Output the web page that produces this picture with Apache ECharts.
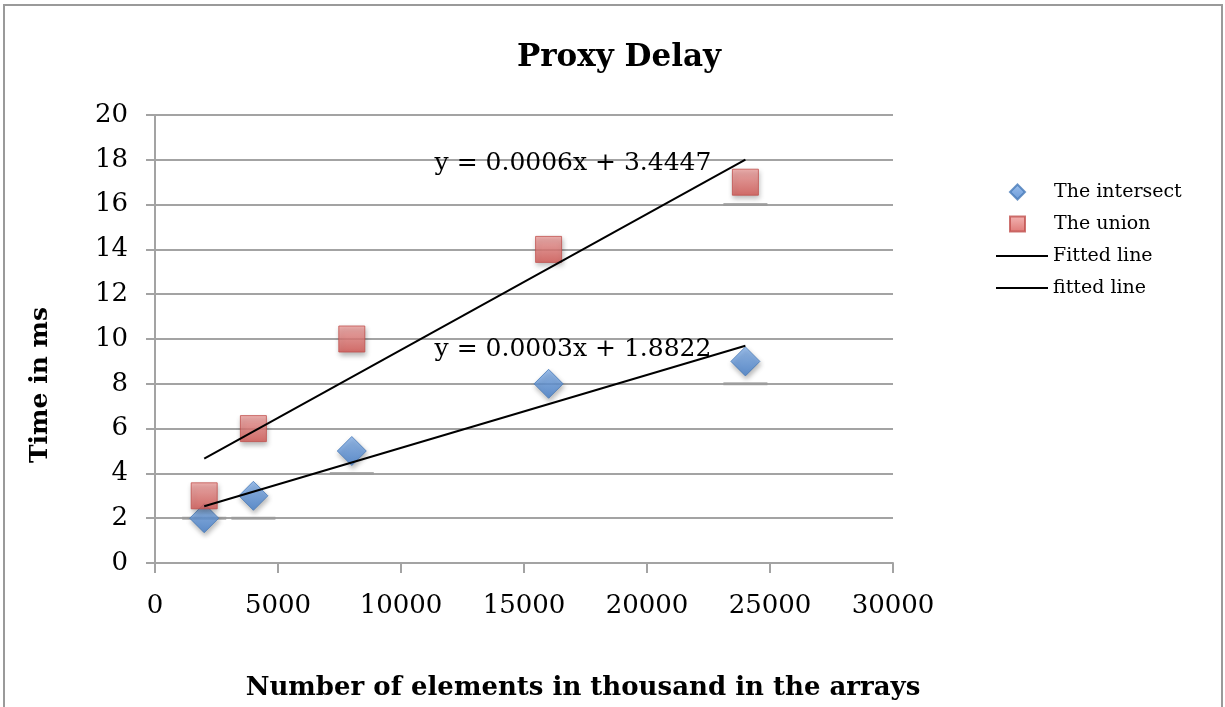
<!DOCTYPE html>
<html>
<head>
<meta charset="utf-8">
<title>Proxy Delay</title>
<script src="https://cdn.jsdelivr.net/npm/echarts@6/dist/echarts.min.js"></script>
<style>
  html, body { margin: 0; padding: 0; background: #fff; }
  #chart { width: 1225px; height: 707px; }
</style>
</head>
<body>
<div id="chart"></div>
<script>
// Array sizes (thousands of elements) and measured delays in ms
const sizes = [2000, 4000, 8000, 16000, 24000];
const intersectMs = [2, 3, 5, 8, 9];
const unionMs = [3, 6, 10, 14, 17];

// Trend line end points (x, y)
const unionFit = [[2000, 4.66], [24000, 18.01]];
const intersectFit = [[2000, 2.53], [24000, 9.70]];
const unionEquation = 'y = 0.0006x + 3.4447';
const intersectEquation = 'y = 0.0003x + 1.8822';

// Short grey bars sitting under some markers
const capMarks = [[2000, 2], [4000, 2], [8000, 4], [24000, 8], [24000, 16]];

const serif = '"DejaVu Serif", "Liberation Serif", serif';
const grey = '#a3a3a3';

const pairs = (xs, ys) => xs.map((x, i) => [x, ys[i]]);

const chart = echarts.init(document.getElementById('chart'), null, { renderer: 'canvas' });

const markerShadow = {
  shadowBlur: 5,
  shadowOffsetX: 1,
  shadowOffsetY: 3,
  shadowColor: 'rgba(0,0,0,0.35)'
};

const legendText = { fontFamily: serif, fontSize: 19, color: '#000', lineHeight: 22 };

chart.setOption({
  backgroundColor: '#fff',
  animation: false,
  title: {
    text: 'Proxy Delay',
    left: 614,
    top: 37,
    textAlign: 'center',
    textStyle: { fontFamily: serif, fontWeight: 'bold', fontSize: 31, color: '#000' }
  },
  grid: { left: 155, right: 332, top: 115, bottom: 144, containLabel: false },
  legend: [
    {
      orient: 'vertical',
      left: 1004,
      top: 176,
      itemWidth: 15,
      itemHeight: 15,
      itemGap: 10,
      textStyle: Object.assign({ padding: [0, 0, 0, 24] }, legendText),
      data: [
        { name: 'The intersect', icon: 'diamond' },
        { name: 'The union', icon: 'rect' }
      ]
    },
    {
      orient: 'vertical',
      left: 991,
      top: 240,
      itemWidth: 52,
      itemHeight: 2,
      itemGap: 10,
      textStyle: legendText,
      data: [
        { name: 'Fitted line', icon: 'rect' },
        { name: 'fitted line', icon: 'rect' }
      ]
    }
  ],
  xAxis: {
    type: 'value',
    min: 0,
    max: 30000,
    interval: 5000,
    axisLine: { show: true, onZero: false, lineStyle: { color: grey, width: 2 } },
    axisTick: { show: true, length: 10, lineStyle: { color: grey, width: 2 } },
    axisLabel: { margin: 30, fontFamily: serif, fontSize: 26, color: '#000', formatter: v => String(v) },
    splitLine: { show: false }
  },
  yAxis: {
    type: 'value',
    min: 0,
    max: 20,
    interval: 2,
    axisLine: { show: true, onZero: false, lineStyle: { color: grey, width: 2 } },
    axisTick: { show: true, length: 9, lineStyle: { color: grey, width: 2 } },
    axisLabel: { margin: 27, fontFamily: serif, fontSize: 26, color: '#000' },
    splitLine: { show: true, lineStyle: { color: grey, width: 2 } }
  },
  series: [
    {
      name: 'caps',
      type: 'scatter',
      silent: true,
      symbol: 'rect',
      symbolSize: [44, 3],
      itemStyle: { color: '#9a9a9a' },
      z: 2,
      data: capMarks
    },
    {
      name: 'The intersect',
      type: 'scatter',
      symbol: 'diamond',
      symbolSize: 29,
      itemStyle: Object.assign({
        color: new echarts.graphic.LinearGradient(0, 0, 0, 1, [
          { offset: 0, color: '#86b2ea' },
          { offset: 1, color: '#447fcc' }
        ]),
        borderColor: '#4679b8',
        borderWidth: 1
      }, markerShadow),
      z: 3,
      data: pairs(sizes, intersectMs)
    },
    {
      name: 'The union',
      type: 'scatter',
      symbol: 'rect',
      symbolSize: 26,
      itemStyle: Object.assign({
        color: new echarts.graphic.LinearGradient(0, 0, 0, 1, [
          { offset: 0, color: '#f0a3a1' },
          { offset: 1, color: '#d65753' }
        ]),
        borderColor: '#c0504d',
        borderWidth: 1
      }, markerShadow),
      z: 3,
      data: pairs(sizes, unionMs)
    },
    {
      name: 'Fitted line',
      type: 'line',
      symbol: 'none',
      lineStyle: { color: '#000', width: 2 },
      itemStyle: { color: '#000' },
      z: 5,
      data: unionFit
    },
    {
      name: 'fitted line',
      type: 'line',
      symbol: 'none',
      lineStyle: { color: '#000', width: 2 },
      itemStyle: { color: '#000' },
      z: 5,
      data: intersectFit
    }
  ],
  graphic: [
    {
      type: 'rect',
      silent: true,
      shape: { x: 4, y: 5, width: 1218, height: 720 },
      style: { fill: 'none', stroke: '#9a9a9a', lineWidth: 2 }
    },
    {
      type: 'text',
      x: 573,
      y: 163,
      z: 10,
      style: {
        text: unionEquation,
        fontFamily: serif, fontSize: 25, fill: '#000',
        textAlign: 'center', textVerticalAlign: 'middle'
      }
    },
    {
      type: 'text',
      x: 573,
      y: 349,
      z: 10,
      style: {
        text: intersectEquation,
        fontFamily: serif, fontSize: 25, fill: '#000',
        textAlign: 'center', textVerticalAlign: 'middle'
      }
    },
    {
      // x-axis title
      type: 'text',
      x: 583,
      y: 688,
      style: {
        text: 'Number of elements in thousand in the arrays',
        fontFamily: serif, fontWeight: 'bold', fontSize: 26, fill: '#000',
        textAlign: 'center', textVerticalAlign: 'middle'
      }
    },
    {
      // y-axis title
      type: 'text',
      x: 40,
      y: 385,
      rotation: Math.PI / 2,
      style: {
        text: 'Time in ms',
        fontFamily: serif, fontWeight: 'bold', fontSize: 25, fill: '#000',
        textAlign: 'center', textVerticalAlign: 'middle'
      }
    }
  ]
});
</script>
</body>
</html>
